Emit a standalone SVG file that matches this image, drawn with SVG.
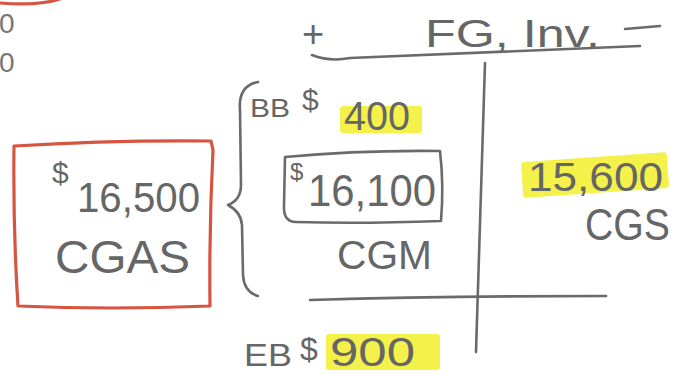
<svg xmlns="http://www.w3.org/2000/svg" width="682" height="375" viewBox="0 0 682 375">
  <style>
    .ink { fill: none; stroke: #6a6a6a; stroke-width: 2.6; stroke-linecap: round; stroke-linejoin: round; }
    .red { fill: none; stroke: #d65540; stroke-width: 3.2; stroke-linecap: round; stroke-linejoin: round; }
    .hl { fill: #f4f24a; }
    text { font-family: "Liberation Sans", "DejaVu Sans", sans-serif; fill: #666666; }
    .dim { fill: #777777; }
  </style>
  <rect width="682" height="375" fill="#ffffff"/>

  <!-- leftover edge of a red frame and digits at the top-left -->
  <g id="edge-top-left">
    <path class="red" d="M0,3 Q38,6 60,-1"/>
    <text x="-1" y="33" font-size="28" class="dim">0</text>
    <text x="-1" y="72" font-size="28" class="dim">0</text>
  </g>

  <!-- highlights behind the figures -->
  <g id="highlights">
    <rect class="hl" x="340" y="106" width="82" height="27" rx="3"/>
    <rect class="hl" x="522" y="157" width="146" height="36" rx="3" transform="rotate(-4 595 175)"/>
    <rect class="hl" x="326" y="334" width="114" height="36" rx="3"/>
  </g>

  <!-- CGAS total box -->
  <g id="cgas-box">
    <path class="red" d="M14,146 Q110,140 211,141 L213,150 Q209,230 210,306 Q110,310 18,306 Q13,230 14,146 Z"/>
    <text x="52" y="183" font-size="30">$</text>
    <text x="77" y="212" font-size="42" textLength="123" lengthAdjust="spacingAndGlyphs">16,500</text>
    <text x="55" y="273" font-size="46" textLength="135" lengthAdjust="spacingAndGlyphs">CGAS</text>
  </g>

  <!-- brace grouping the debit side -->
  <g id="brace">
    <path class="ink" d="M258,82 Q238,86 240,110 L241,185 Q241,200 228,205 Q241,212 242,225 L243,275 Q244,292 258,296"/>
  </g>

  <!-- T-account for finished goods inventory -->
  <g id="fg-inventory">
    <text x="302" y="47" font-size="38">+</text>
    <text x="425" y="47" font-size="38" textLength="175" lengthAdjust="spacingAndGlyphs">FG, Inv.</text>
    <path class="ink" d="M625,29 L660,26"/>
    <path class="ink" d="M312,55 Q330,62 350,58 Q450,54 640,46"/>
    <path class="ink" d="M485,63 Q481,200 476,352"/>
    <path class="ink" d="M310,300 Q450,296 606,296"/>

    <text x="250" y="117" font-size="26" textLength="40" lengthAdjust="spacingAndGlyphs">BB</text>
    <text x="302" y="110" font-size="30">$</text>
    <text x="344" y="130" font-size="40" textLength="66" lengthAdjust="spacingAndGlyphs">400</text>

    <path class="ink" d="M285,157 Q360,150 440,151 Q444,185 441,221 Q360,224 296,222 Q283,222 284,205 Z"/>
    <text x="290" y="180" font-size="24">$</text>
    <text x="308" y="206" font-size="44" textLength="128" lengthAdjust="spacingAndGlyphs">16,100</text>
    <text x="337" y="269" font-size="40" textLength="95" lengthAdjust="spacingAndGlyphs">CGM</text>

    <text x="244" y="366" font-size="32" textLength="48" lengthAdjust="spacingAndGlyphs">EB</text>
    <text x="300" y="360" font-size="32">$</text>
    <text x="330" y="366" font-size="40" textLength="85" lengthAdjust="spacingAndGlyphs">900</text>

    <text x="528" y="191" font-size="40" textLength="135" lengthAdjust="spacingAndGlyphs">15,600</text>
    <text x="585" y="240" font-size="44" textLength="85" lengthAdjust="spacingAndGlyphs">CGS</text>
  </g>
</svg>
